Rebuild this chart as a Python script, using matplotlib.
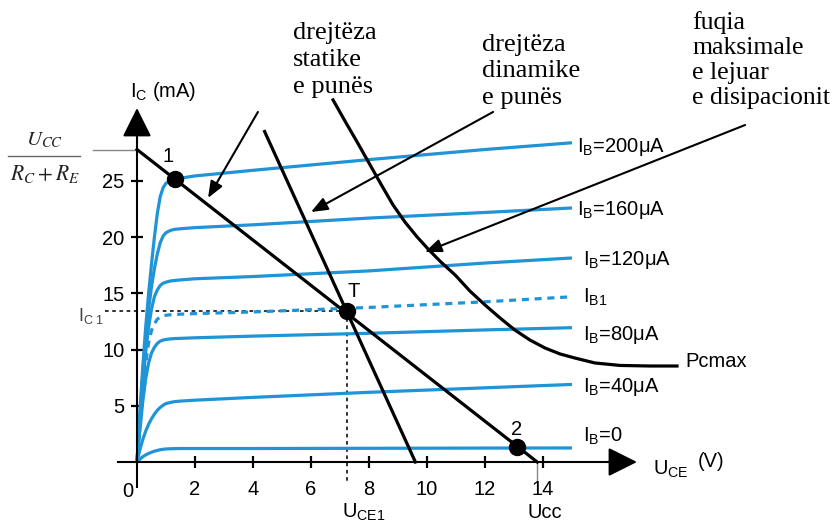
import matplotlib
matplotlib.use("Agg")
import matplotlib.pyplot as plt

plt.rcParams['font.family'] = ['Liberation Sans', 'DejaVu Sans']
plt.rcParams['mathtext.fontset'] = 'custom'
plt.rcParams['mathtext.rm'] = 'Liberation Sans'
plt.rcParams['mathtext.it'] = 'Liberation Sans:italic'

# ---- output characteristics I_C(U_CE) for several base currents ----
uce = [0, 0.1, 0.2, 0.3, 0.4, 0.5, 0.6, 0.7, 0.8, 0.9, 1.0, 1.15, 1.3, 1.5, 2.0, 4.0, 8.0, 12.0, 15.0]
ic_200 = [0, 4.5, 8.5, 12.0, 15.0, 17.6, 20.0, 22.1, 23.6, 24.4, 24.8, 25.0, 25.15, 25.25, 25.45, 25.95, 26.9, 27.8, 28.4]
ic_160 = [0, 4.0, 7.8, 11.0, 13.6, 15.6, 17.2, 18.5, 19.5, 20.1, 20.4, 20.6, 20.7, 20.75, 20.85, 21.1, 21.7, 22.2, 22.6]
ic_120 = [0, 3.6, 7.0, 9.8, 12.0, 13.6, 14.7, 15.3, 15.7, 15.9, 16.0, 16.1, 16.15, 16.2, 16.3, 16.5, 17.0, 17.7, 18.15]
ic_b1 = [0, 3.2, 6.3, 8.8, 10.6, 11.7, 12.3, 12.7, 12.9, 13.0, 13.05, 13.1, 13.12, 13.15, 13.2, 13.35, 13.75, 14.25, 14.7]
ic_80 = [0, 2.8, 5.4, 7.4, 8.8, 9.7, 10.2, 10.55, 10.75, 10.85, 10.9, 10.95, 10.98, 11.0, 11.05, 11.2, 11.45, 11.75, 11.95]
ic_40 = [0, 1.1, 2.0, 2.75, 3.35, 3.85, 4.25, 4.6, 4.85, 5.05, 5.2, 5.3, 5.37, 5.42, 5.5, 5.75, 6.2, 6.6, 6.9]
ic_0 = [0, 0.25, 0.47, 0.63, 0.76, 0.87, 0.96, 1.03, 1.09, 1.13, 1.16, 1.18, 1.19, 1.2, 1.2, 1.2, 1.22, 1.24, 1.25]

curves = [ic_200, ic_160, ic_120, ic_b1, ic_80, ic_40, ic_0]
curve_dashed = [False, False, False, True, False, False, False]
curve_labels = ['I$_\\mathrm{B}$=200μA', 'I$_\\mathrm{B}$=160μA', 'I$_\\mathrm{B}$=120μA',
                'I$_\\mathrm{B1}$', 'I$_\\mathrm{B}$=80μA', 'I$_\\mathrm{B}$=40μA', 'I$_\\mathrm{B}$=0']
label_x = [15.17, 15.17, 15.38, 15.38, 15.38, 15.38, 15.38]
label_y = [27.58, 21.98, 17.53, 14.15, 10.85, 6.23, 1.78]

# ---- load lines and operating points ----
UCC = 13.8            # V, supply voltage
IC_MAX = 27.8         # mA, U_CC / (R_C + R_E)
static_u = [0, UCC]
static_i = [IC_MAX, 0]
dynamic_u = [4.4, 9.6]
dynamic_i = [29.4, 0]
UCE1 = 7.25
IC1 = 13.4
point_u = [1.3, UCE1, 13.1]
point_i = [25.2, IC1, 1.3]
point_names = ['1', 'T', '2']

# ---- maximum allowed dissipation curve ----
pc_u = [6.76, 7.17, 7.59, 8.0, 8.41, 8.83, 9.24, 9.66, 10.07, 10.48, 10.97, 11.48,
        12.0, 12.52, 13.03, 13.55, 14.07, 14.59, 15.10, 15.79, 16.66, 17.69, 18.62]
pc_i = [32.21, 30.34, 28.47, 26.60, 24.73, 22.86, 21.35, 20.02, 18.86, 17.79, 16.64, 15.21,
        13.97, 12.81, 11.74, 10.85, 10.14, 9.61, 9.25, 8.81, 8.59, 8.54, 8.54]

xticks = [2, 4, 6, 8, 10, 12, 14]
yticks = [5, 10, 15, 20, 25]

BLUE = '#1f94d6'

fig = plt.figure(figsize=(8.33, 5.29), dpi=100)
ax = fig.add_axes([0, 0, 1, 1])
ax.set_xlim(-4.724, 24.0)
ax.set_ylim(-5.96, 41.10)

# axes through the origin
for side in ('top', 'right'):
    ax.spines[side].set_visible(False)
ax.spines['left'].set_position(('data', 0))
ax.spines['bottom'].set_position(('data', 0))
ax.spines['left'].set_bounds(-2.2, 30.0)
ax.spines['bottom'].set_bounds(-0.66, 16.6)
for side in ('left', 'bottom'):
    ax.spines[side].set_linewidth(1.5)
ax.set_xticks(xticks)
ax.set_yticks(yticks)
ax.tick_params(direction='inout', length=8, width=1.6, labelsize=14.5)
ax.tick_params(axis='x', pad=9)
ax.tick_params(axis='y', pad=5)
ax.annotate('', xy=(17.24, 0), xytext=(16.2, 0),
            arrowprops=dict(arrowstyle='-|>,head_length=1.0,head_width=0.5',
                            mutation_scale=18, color='k', lw=1.5, shrinkA=0, shrinkB=0))
ax.annotate('', xy=(0, 31.49), xytext=(0, 29.5),
            arrowprops=dict(arrowstyle='-|>,head_length=1.0,head_width=0.5',
                            mutation_scale=18, color='k', lw=1.5, shrinkA=0, shrinkB=0))
ax.text(-0.31, -3.11, '0', fontsize=14.5, ha='center', va='baseline')
ax.text(-0.24, 32.5, 'I$_\\mathrm{C}$ (mA)', fontsize=14.5, ha='left', va='baseline')
ax.text(17.8, -1.16, 'U$_\\mathrm{CE}$', fontsize=14.5, ha='left', va='baseline')
ax.text(19.34, -0.44, '(V)', fontsize=14.5, ha='left', va='baseline')

# characteristic curves
for ic, dashed, lab, lx, ly in zip(curves, curve_dashed, curve_labels, label_x, label_y):
    ax.plot(uce, ic, color=BLUE, lw=2.3, ls=(0, (2.2, 1.8)) if dashed else '-',
            solid_capstyle='butt', solid_joinstyle='round', zorder=2)
    ax.text(lx, ly, lab, fontsize=14.5, ha='left', va='baseline')

# load lines, P_Cmax curve
ax.plot(static_u, static_i, color='k', lw=2.3, zorder=3)
ax.plot(dynamic_u, dynamic_i, color='k', lw=2.3, zorder=3)
ax.plot(pc_u, pc_i, color='k', lw=2.3, solid_joinstyle='round', zorder=3)
ax.text(18.9, 8.45, 'Pcmax', fontsize=14.5, ha='left', va='baseline')

# operating point guides
ax.plot([-1.1, UCE1], [IC1, IC1], color='#222222', lw=1.3, ls=(0, (2, 2)), zorder=1)
ax.plot([UCE1, UCE1], [IC1, -1.8], color='#222222', lw=1.3, ls=(0, (2, 2)), zorder=1)
ax.plot([UCC, UCC], [0, -2.5], color='#888888', lw=1.0, zorder=1)
ax.plot([-1.52, 0], [IC_MAX, IC_MAX], color='#888888', lw=1.0, zorder=1)
ax.plot([-4.45, -1.97], [27.22, 27.22], color='#666666', lw=1.0, zorder=1)

ax.plot(point_u, point_i, 'o', color='k', ms=11.5, zorder=4)
ax.text(1.07, 26.7, point_names[0], fontsize=14.5, ha='center', va='baseline')
ax.text(7.48, 14.68, point_names[1], fontsize=14.5, ha='center', va='baseline')
ax.text(13.1, 2.4, point_names[2], fontsize=14.5, ha='center', va='baseline')

ax.text(-2.03, 12.54, 'I$_\\mathrm{C\\ 1}$', fontsize=13, color='#444444', ha='left', va='baseline')
ax.text(7.07, -4.98, 'U$_\\mathrm{CE1}$', fontsize=14.5, ha='left', va='baseline')
ax.text(13.45, -4.98, 'Ucc', fontsize=14.5, ha='left', va='baseline')

# U_CC / (R_C + R_E)
ax.text(-3.2, 28.2, r'$U_{CC}$', fontsize=15, math_fontfamily='stix', color='#222222',
        ha='center', va='baseline')
ax.text(-3.17, 25.09, r'$R_C + R_E$', fontsize=15.5, math_fontfamily='stix', color='#222222',
        ha='center', va='baseline')

# callouts
serif = ['Liberation Serif', 'DejaVu Serif']
ax.text(5.38, 39.1, 'drejtëza\nstatike\ne punës', family=serif, fontsize=19,
        ha='left', va='top', linespacing=1.27)
ax.text(11.9, 38.1, 'drejtëza\ndinamike\ne punës', family=serif, fontsize=19,
        ha='left', va='top', linespacing=1.27)
ax.text(19.14, 40.1, 'fuqia\nmaksimale\ne lejuar\ne disipacionit', family=serif, fontsize=18.5,
        ha='left', va='top', linespacing=1.17)
arrow_kw = dict(arrowstyle='-|>,head_length=1.0,head_width=0.4', mutation_scale=10,
                color='k', lw=1.5, shrinkA=0, shrinkB=0)
ax.annotate('', xy=(2.45, 23.49), xytext=(4.17, 31.14), arrowprops=arrow_kw)
ax.annotate('', xy=(6.0, 22.24), xytext=(12.28, 31.14), arrowprops=arrow_kw)
ax.annotate('', xy=(9.93, 18.68), xytext=(20.97, 29.98), arrowprops=arrow_kw)

fig.savefig('out.png', dpi=100)
